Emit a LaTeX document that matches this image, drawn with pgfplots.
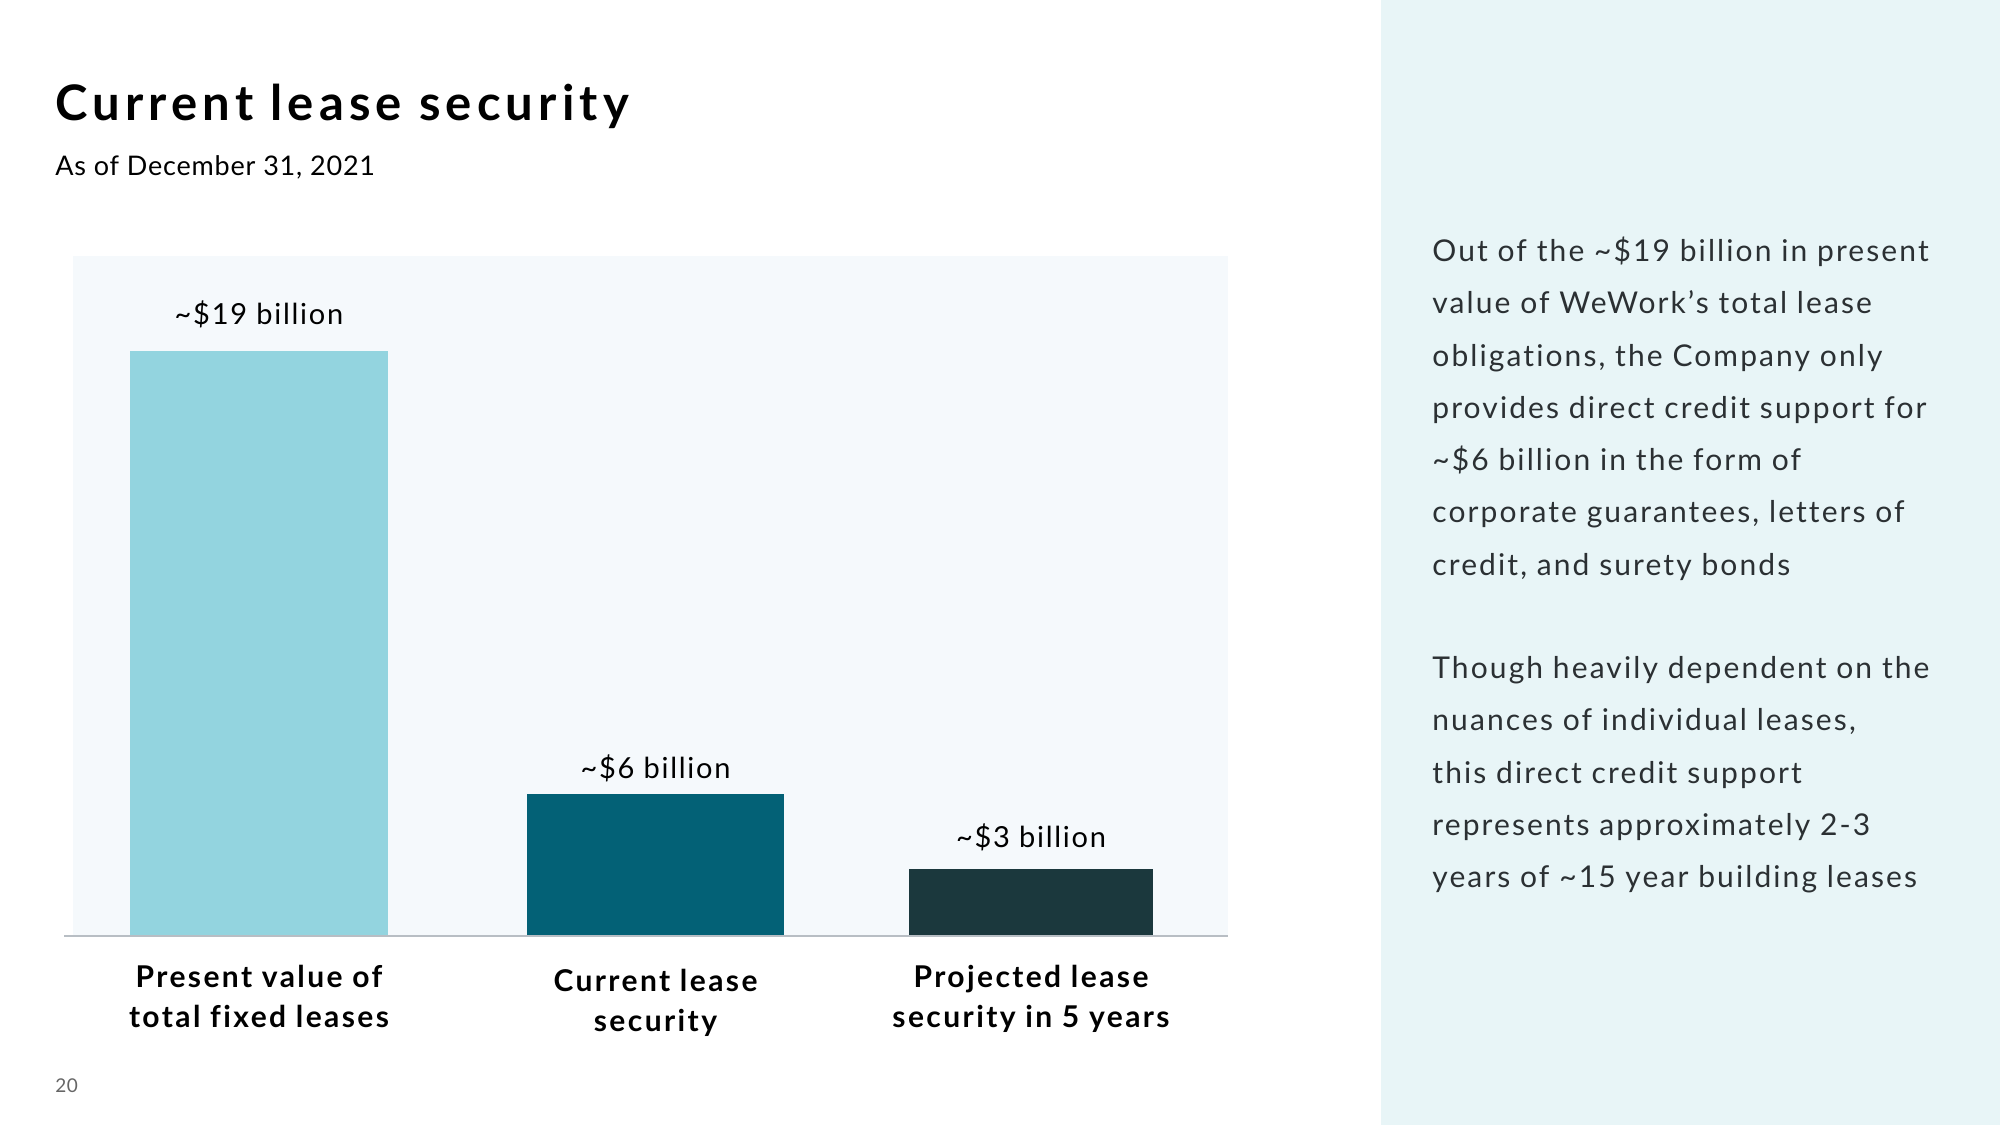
\documentclass[border=0pt]{standalone}
\usepackage{fontspec}
\setmainfont{Lato}[Ligatures=NoCommon]
\newfontfamily\titlefont{Lato}[LetterSpace=10.5,Ligatures=NoCommon]
\newfontfamily\subfont{Lato}[LetterSpace=3,Ligatures=NoCommon]
\newfontfamily\valfont{Lato}[LetterSpace=6,Ligatures=NoCommon]
\newfontfamily\catfont{Lato}[LetterSpace=8,Ligatures=NoCommon]
\newfontfamily\bodyfont{Lato}[LetterSpace=7,Ligatures=NoCommon]
\usepackage{pgfplots}
\pgfplotsset{compat=1.18}
\definecolor{barA}{HTML}{93D4DF}
\definecolor{barB}{HTML}{036176}
\definecolor{barC}{HTML}{1B383D}
\definecolor{plotbg}{HTML}{F5F9FC}
\definecolor{panel}{HTML}{E8F5F7}
\definecolor{baseln}{HTML}{B8BEC4}
\definecolor{bodytxt}{HTML}{2B3033}
\begin{document}
\begin{tikzpicture}
% page (1 px of the 2000x1125 reference = 0.5pt)
\fill[white] (0pt,0pt) rectangle (1000pt,562.5pt);
\fill[panel] (690.5pt,0pt) rectangle (1000pt,562.5pt);
% title
\node[anchor=base west,inner sep=0pt,font=\titlefont\fontsize{24.5}{28}\bfseries\selectfont] at (27.5pt,502pt) {Current lease security};
\node[anchor=base west,inner sep=0pt,font=\subfont\fontsize{13.5}{16}\selectfont] at (27.5pt,474.5pt) {As of December 31, 2021};
\node[anchor=base west,inner sep=0pt,font=\subfont\fontsize{9.5}{11}\selectfont,text=black!60] at (27.5pt,16.5pt) {20};
% right text
\foreach \t [count=\i from 0] in {
 {Out of the \textasciitilde\$19 billion in present},
 {value of WeWork’s total lease},
 {obligations, the Company only},
 {provides direct credit support for},
 {\textasciitilde\$6 billion in the form of},
 {corporate guarantees, letters of},
 {credit, and surety bonds}}{
 \node[anchor=base west,inner sep=0pt,font=\bodyfont\fontsize{15}{16}\selectfont,text=bodytxt] at (716pt,431.75pt-26.15pt*\i) {\t};
}
\foreach \t [count=\i from 0] in {
 {Though heavily dependent on the},
 {nuances of individual leases,},
 {this direct credit support},
 {represents approximately 2-3},
 {years of \textasciitilde15 year building leases}}{
 \node[anchor=base west,inner sep=0pt,font=\bodyfont\fontsize{15}{16}\selectfont,text=bodytxt] at (716pt,223.2pt-26.15pt*\i) {\t};
}
\begin{axis}[
  at={(36.5pt,94.5pt)}, anchor=south west,
  scale only axis, width=577.5pt, height=340pt,
  xmin=73, xmax=1228, ymin=0, ymax=22.12,
  axis background/.style={fill=plotbg},
  axis line style={draw=none},
  ytick=\empty,
  xtick={259,655.5,1031},
  xticklabels={{Present value of\\total fixed leases},{\rule{0pt}{13pt}Current lease\\security},{Projected lease\\security in 5 years}},
  major tick length=0pt,
  xticklabel style={align=center,font=\catfont\fontsize{15}{20}\bfseries\selectfont,anchor=north,inner sep=0pt,yshift=-14.5pt},
  clip=false,
  ybar, bar shift=0pt,
  nodes near coords,
  point meta=explicit symbolic,
  every node near coord/.append style={font=\valfont\fontsize{14.5}{16}\selectfont,text=black,anchor=south},
]
\addplot[fill=barA,draw=none,bar width=129pt,every node near coord/.append style={yshift=7.9pt}] coordinates {(259,19.03) [\textasciitilde\$19 billion]};
\addplot[fill=barB,draw=none,bar width=128.5pt,every node near coord/.append style={yshift=2.8pt}] coordinates {(655.5,4.61) [\textasciitilde\$6 billion]};
\addplot[fill=barC,draw=none,bar width=122pt,every node near coord/.append style={yshift=5.4pt}] coordinates {(1031,2.17) [\textasciitilde\$3 billion]};
\draw[baseln,line width=1.2pt] (axis cs:64,0) -- (axis cs:1228,0);
\end{axis}
\end{tikzpicture}
\end{document}
